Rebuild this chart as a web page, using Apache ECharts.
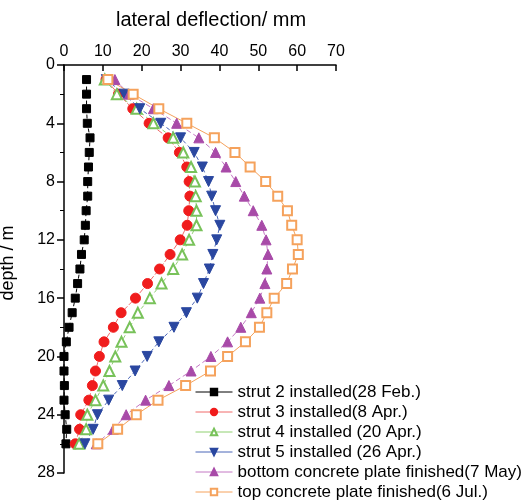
<!DOCTYPE html>
<html><head><meta charset="utf-8">
<script src="https://cdn.jsdelivr.net/npm/echarts@6/dist/echarts.min.js"></script>
<style>html,body{margin:0;padding:0;background:#fff}#c{width:521px;height:501px}</style>
</head><body><div id="c"></div>
<script>
var depths = [1,2,3,4,5,6,7,8,9,10,11,12,13,14,15,16,17,18,19,20,21,22,23,24,25,26];
var seriesNames = ["strut 2 installed(28 Feb.)","strut 3 installed(8 Apr.)","strut 4 installed (20 Apr.)","strut 5 installed (26 Apr.)","bottom concrete plate finished(7 May)","top concrete plate finished(6 Jul.)"];
var strut2 = [5.8,5.8,5.8,6.0,6.7,6.5,6.3,6.1,6.1,5.7,5.5,5.2,4.5,4.1,3.5,2.9,2.1,1.3,0.6,0.0,0.0,0.1,0.0,0.3,0.7,0.5];
var strut3 = [10.8,14.0,17.7,21.9,26.8,29.7,31.6,32.2,32.4,32.1,31.7,29.9,27.3,24.6,21.5,18.4,14.7,12.7,10.3,9.1,8.1,7.3,6.4,4.3,4.0,2.9];
var strut4 = [10.5,13.6,18.7,23.0,28.1,30.7,32.7,33.7,33.9,34.1,34.1,32.2,30.4,28.1,25.1,22.1,19.0,16.9,14.8,13.2,11.7,10.1,8.1,6.0,5.7,3.9];
var strut5 = [10.9,15.5,19.5,24.9,30.0,33.5,35.6,37.2,38.0,39.0,40.1,39.3,38.3,37.4,35.9,34.3,31.5,28.3,24.4,21.4,18.3,15.0,11.5,8.6,7.5,5.4];
var bottomPlate = [13.1,16.8,23.0,29.0,34.7,39.0,41.7,44.2,46.4,48.7,50.9,52.0,52.5,52.2,51.7,50.4,48.2,45.5,42.1,37.8,32.7,27.0,21.0,16.0,12.7,8.3];
var topPlate = [11.3,17.8,24.4,31.6,38.7,44.0,47.9,51.9,55.0,57.5,58.6,60.0,60.3,58.8,57.3,54.1,52.2,50.3,46.7,42.1,37.7,31.3,24.2,18.6,13.8,8.7];
var xTicks = [0,10,20,30,40,50,60,70];
var yTicks = [0,4,8,12,16,20,24,28];

function pairs(vals){ return vals.map(function(v,i){ return [v, depths[i]]; }); }
var FONT = 'Liberation Sans, Arial, sans-serif';
var styles = [
  {symbol:'rect', size:8, color:'#000000', line:'#000000', dash:[4,3], rot:0},
  {symbol:'circle', size:10, color:'#f01c1c', line:'#f06a6a', dash:[6,2], rot:0},
  {symbol:'emptyTriangle', size:10, color:'#78c25a', line:'#8fd070', dash:[4,3], rot:0},
  {symbol:'triangle', size:10, color:'#2a47a0', line:'#4a66b8', dash:[4,3], rot:180},
  {symbol:'triangle', size:10, color:'#a84aa8', line:'#c478c4', dash:[5,3], rot:0},
  {symbol:'emptyRect', size:9, color:'#f5a25c', line:'#f5a25c', dash:'solid', rot:0}
];
var datasets = [strut2, strut3, strut4, strut5, bottomPlate, topPlate];
var series = datasets.map(function(d, i){
  var s = styles[i];
  return {
    name: seriesNames[i], type:'line', data: pairs(d),
    symbol: s.symbol, symbolSize: s.size, symbolRotate: s.rot,
    itemStyle: {color: s.color, borderColor: s.color, borderWidth: 1},
    lineStyle: {color: s.line, width: 1, type: s.dash},
    animation:false
  };
});

var chart = echarts.init(document.getElementById('c'), null, {renderer:'canvas'});
chart.setOption({
  backgroundColor:'#fff',
  animation:false,
  grid:{left:64, right:185, top:65, bottom:28},
  xAxis:{type:'value', position:'top', min:0, max:70, interval:10,
    axisLine:{show:true, lineStyle:{color:'#000', width:1.5}},
    axisTick:{show:true, inside:true, length:6, lineStyle:{color:'#000', width:1.5}},
    axisLabel:{color:'#000', fontSize:16, fontFamily:FONT, margin:5,
      formatter:function(v){ return xTicks.indexOf(v)>=0 ? String(v) : ''; }},
    splitLine:{show:false}},
  yAxis:{type:'value', inverse:true, min:0, max:28, interval:4,
    axisLine:{show:true, onZero:false, lineStyle:{color:'#000', width:1.5}},
    axisTick:{show:true, length:7, lineStyle:{color:'#000', width:1.5}},
    minorTick:{show:true, splitNumber:2, length:4, lineStyle:{color:'#000', width:1}},
    axisLabel:{color:'#000', fontSize:16, fontFamily:FONT, margin:9,
      formatter:function(v){ return yTicks.indexOf(v)>=0 ? String(v) : ''; }},
    splitLine:{show:false}},
  legend:{orient:'vertical', left:195, top:382, height:140, padding:0,
    itemWidth:37, itemHeight:8, itemGap:0, align:'left', data:seriesNames,
    lineStyle:{type:'solid', width:1},
    textStyle:{color:'#000', fontSize:17, lineHeight:20, fontFamily:FONT}},
  graphic:[
    {type:'text', left:116, top:10, style:{text:'lateral deflection/ mm', fill:'#000', font:'20px '+FONT}},
    {type:'text', x:8, y:263, rotation:Math.PI/2, style:{text:'depth / m', fill:'#000', font:'18px '+FONT, textAlign:'center', textVerticalAlign:'middle'}}
  ],
  series: series
});
</script></body></html>
